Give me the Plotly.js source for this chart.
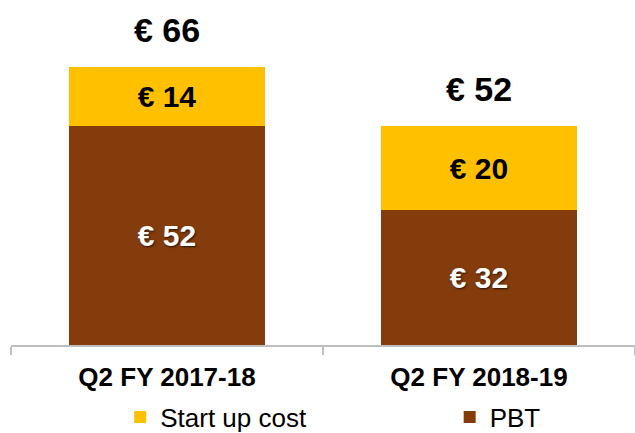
<!DOCTYPE html>
<html>
<head>
<meta charset="utf-8">
<script src="https://cdn.plot.ly/plotly-3.0.1.min.js"></script>
<style>html,body{margin:0;padding:0;background:#fff;}#chart{width:635px;height:433px;}</style>
</head>
<body>
<div id="chart"></div>
<script>
const categories = ["Q2 FY 2017-18", "Q2 FY 2018-19"];
const pbt = [52, 32];
const startUpCost = [14, 20];
const totals = [66, 52];

const FONT = "Liberation Sans, Arial, sans-serif";

const traces = [
  {
    type: "bar", name: "PBT", x: categories, y: pbt,
    marker: {color: "#843C0C"},
    texttemplate: "€ %{y}", textposition: "inside", insidetextanchor: "middle",
    textangle: 0, constraintext: "none",
    textfont: {family: FONT, size: 30, weight: "bold", color: "#ffffff",
               shadow: "1px 1px 2px rgba(0,0,0,0.7)"},
    hoverinfo: "skip", legend: "legend2"
  },
  {
    type: "bar", name: "Start up cost", x: categories, y: startUpCost,
    marker: {color: "#FFC000"},
    texttemplate: "€ %{y}", textposition: "inside", insidetextanchor: "middle",
    textangle: 0, constraintext: "none",
    textfont: {family: FONT, size: 30, weight: "bold", color: "#000000"},
    hoverinfo: "skip", legend: "legend"
  }
];

const annotations = categories.map((c, i) => ({
  x: c, y: totals[i], xref: "x", yref: "y",
  text: "€ " + totals[i], showarrow: false,
  yanchor: "bottom", yshift: 16,
  font: {family: FONT, size: 34, weight: "bold", color: "#000000"}
}));

const legendFont = {family: FONT, size: 26, color: "#000000"};

const layout = {
  width: 635, height: 433,
  margin: {l: 11, r: 0, t: 0, b: 88},
  paper_bgcolor: "#ffffff", plot_bgcolor: "#ffffff",
  barmode: "stack", bargap: 0.37,
  showlegend: true,
  legend: {orientation: "h", x: 0.175, xanchor: "left", xref: "paper",
           y: 0.037, yref: "container", yanchor: "middle",
           itemwidth: 30, font: legendFont, bgcolor: "rgba(0,0,0,0)"},
  legend2: {orientation: "h", x: 0.703, xanchor: "left", xref: "paper",
           y: 0.037, yref: "container", yanchor: "middle",
           itemwidth: 30, font: legendFont, bgcolor: "rgba(0,0,0,0)"},
  xaxis: {
    showline: true, linecolor: "#BFBFBF", linewidth: 2,
    ticks: "outside", tickson: "boundaries", ticklen: 8, tickcolor: "#BFBFBF", tickwidth: 2,
    ticklabelstandoff: 8,
    tickfont: {family: FONT, size: 26, weight: "bold", color: "#000000"},
    showgrid: false, zeroline: false, fixedrange: true
  },
  yaxis: {range: [0, 82], visible: false, showgrid: false, zeroline: false, fixedrange: true},
  annotations: annotations
};

Plotly.newPlot("chart", traces, layout, {displayModeBar: false, staticPlot: true});
</script>
</body>
</html>
